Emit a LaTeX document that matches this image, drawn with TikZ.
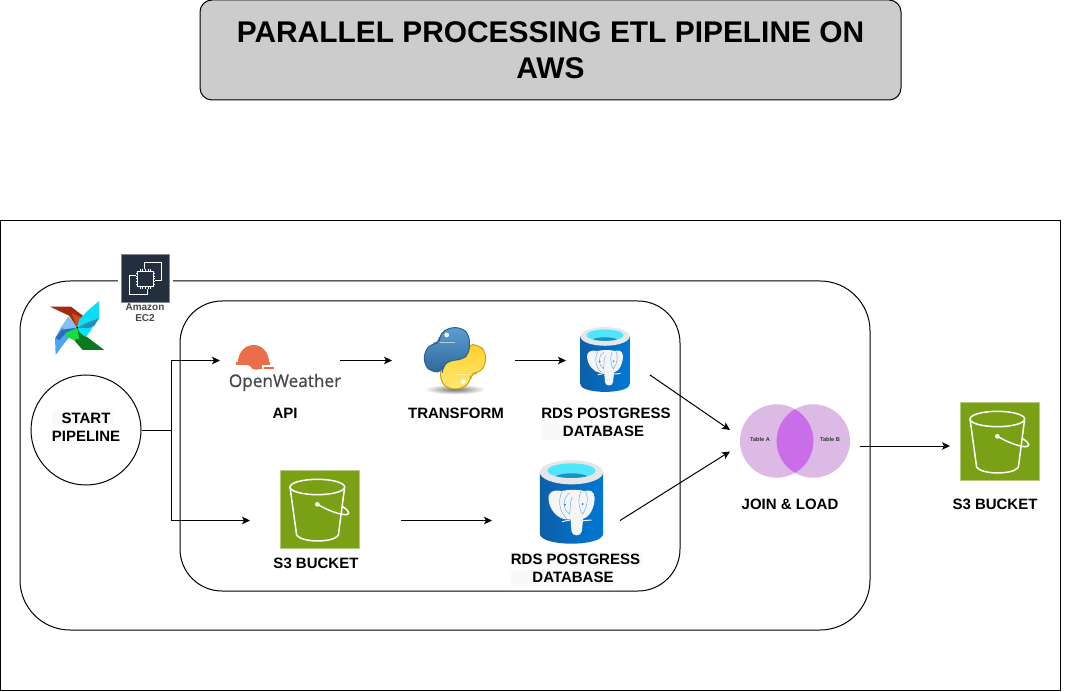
\documentclass[tikz,border=0pt]{standalone}
\usepackage{fontspec}
\setmainfont{Liberation Sans}
\newfontfamily\owfont[FakeBold=0.8]{Open Sans}
\usetikzlibrary{arrows.meta,calc}
\definecolor{titlegrey}{HTML}{CCCCCC}
\definecolor{s3green}{HTML}{7AA116}
\definecolor{s3edge}{HTML}{B5CC7E}
\definecolor{ecdark}{HTML}{232F3E}
\definecolor{ecedge}{HTML}{7F8893}
\definecolor{oworange}{HTML}{EB6E4B}
\definecolor{owgrey}{HTML}{48484A}
\definecolor{vennlight}{HTML}{DDB9E6}
\definecolor{venndark}{HTML}{C96EE8}
\definecolor{pgdeep}{HTML}{0F5FA8}
\definecolor{pgblue}{HTML}{0078D4}
\definecolor{pgline}{HTML}{5AA5E0}
\definecolor{pgcyan}{HTML}{50E6FF}
\definecolor{pgwater}{HTML}{1C93BE}
\definecolor{pgrim}{HTML}{E6E6E6}
\definecolor{pyblue}{HTML}{3F7CAC}
\definecolor{pybluelt}{HTML}{5A9FD4}
\definecolor{pybluedk}{HTML}{306998}
\definecolor{pyblueedge}{HTML}{2F5F8A}
\definecolor{pyyellowlt}{HTML}{FFE873}
\definecolor{pyyellow}{HTML}{FFD02B}
\definecolor{pyyellowedge}{HTML}{C9A01E}
\definecolor{labelbg}{HTML}{F9F9F9}
\definecolor{afred}{HTML}{A3290F}
\definecolor{aforange}{HTML}{CF4C20}
\definecolor{afcyan}{HTML}{0CDDF5}
\definecolor{afcyanlt}{HTML}{00E5FF}
\definecolor{afteal}{HTML}{2A8FB8}
\definecolor{afgreen}{HTML}{0A7A1E}
\definecolor{afgreenlt}{HTML}{14DC46}
\definecolor{afblue}{HTML}{4AA6F5}
\definecolor{afbluelt}{HTML}{85BFF5}
\definecolor{afbluedk}{HTML}{2B6CB8}
\tikzset{
  frame/.style={draw=black,line width=1pt,fill=white},
  linkbox/.style={inner sep=0pt,outer sep=0pt},
  caption/.style={font=\fontsize{15}{18}\selectfont\bfseries,align=center,inner sep=0pt},
  link/.style={draw=black,line width=1pt,-{Stealth[length=8pt,width=7.5pt,inset=2pt]}},
  hl/.style={fill=labelbg,draw=none}
}
\newcommand{\bucketicon}[2]{%
  \begin{scope}[shift={(#1,#2)},scale=1/3]
    \fill[s3green,draw=s3edge,line width=1pt] (-118.5,-117.5) rectangle (118.5,117.5);
    \begin{scope}[draw=white,line width=1.5pt,line join=round]
      \draw (-6.5,-67.5) ellipse [x radius=82,y radius=23];
      \draw (-88.5,-67.5) -- (-68.5,77.5) .. controls (-50,100) and (40,100) .. (56.5,77.5) -- (75.5,-67.5);
      \draw (-6.5,-15.5) .. controls (20,0) and (50,12) .. (72,15) .. controls (95,18) and (92,5) .. (70,-8);
      \fill[white] (-6.5,-15.5) circle [radius=7];
    \end{scope}
  \end{scope}}
\newcommand{\pgicon}[3]{%
  \begin{scope}[shift={(#1,#2)},scale=#3/3]
    \shade[left color=pgdeep,right color=pgblue] (-95,-89) -- (-95,95) .. controls (-95,135) and (95,135) .. (95,95) -- (95,-89) -- cycle;
    \fill[pgrim] (0,-89) ellipse [x radius=95,y radius=36];
    \fill[pgcyan] (0,-94) ellipse [x radius=72,y radius=22];
    \begin{scope}
      \clip (0,-94) ellipse [x radius=72,y radius=22];
      \fill[pgwater] (0,-66) ellipse [x radius=58,y radius=20];
    \end{scope}
    \fill[white!96!black] (-30,-33) .. controls (-58,-38) and (-72,-27) .. (-69,-8) .. controls (-66,22) and (-45,48) .. (-18,52) -- (-3,52) -- (0,88) .. controls (2,104) and (28,104) .. (31,88) -- (35,50) .. controls (57,45) and (71,10) .. (69,-15) .. controls (68,-32) and (55,-38) .. (40,-33) .. controls (15,-38) and (-10,-37) .. (-30,-33) -- cycle;
    \draw[pgline,line width=.4pt] (-28,-31) .. controls (-42,-5) and (-36,30) .. (-14,50);
    \draw[pgline,line width=.4pt] (-4,-28) .. controls (-30,-12) and (-26,22) .. (-6,36) .. controls (-2,18) and (-6,-5) .. (3,-15);
    \draw[pgline,line width=.4pt] (28,-30) .. controls (18,-10) and (22,20) .. (33,36) .. controls (48,15) and (52,-15) .. (42,-31);
    \fill[pgblue] (-20,8) circle [radius=3];
    \fill[pgblue] (33,6) circle [radius=3];
    \draw[white!96!black,line width=1pt] (-28,59) -- (-5,54);
    \draw[white!96!black,line width=1pt] (35,56) -- (60,54);
  \end{scope}}
\newcommand{\snake}{(148,100) -- (148,75) -- (175,53) -- (215,53) -- (238,75) -- (238,130) -- (215,150) -- (180,150) -- (157,170) -- (157,186) -- (125,186) -- (103,165) -- (103,125) -- (125,100) -- cycle}
\begin{document}
\begin{tikzpicture}[x=1pt,y=-1pt]
\useasboundingbox (0,0) rectangle (1081,692);
\fill[white] (0,0) rectangle (1081,692);

% title
\node[frame,fill=titlegrey,rounded corners=12pt,minimum width=701pt,minimum height=100pt,inner sep=0pt,align=center,
      font=\fontsize{29.9}{36}\selectfont\bfseries] (title) at (550.5,50)
  {PARALLEL PROCESSING ETL PIPELINE ON\\AWS};

% containers
\node[frame,minimum width=1060pt,minimum height=469pt,inner sep=0pt] (outer) at (530,455.5) {};
\node[frame,rounded corners=50pt,minimum width=850pt,minimum height=349pt,inner sep=0pt] (ec2box) at (445,455.5) {};
\node[frame,rounded corners=42pt,minimum width=500pt,minimum height=290pt,inner sep=0pt] (parallel) at (430,446) {};

% EC2 icon
\begin{scope}[shift={(0,240)},scale=1/3]
  \fill[white] (355,43) rectangle (520,186);
  \fill[ecdark,draw=ecedge,line width=.8pt] (365,43) rectangle (508,186);
  \begin{scope}[draw=white,line width=.8pt]
    \draw (432,86) -- (432,67) -- (485,67) -- (485,122) -- (466,122);
    \draw (407,107) -- (388,107) -- (388,163) -- (443,163) -- (443,146);
    \draw (413,93) rectangle (460,140);
    \foreach \p in {420,428,436,444,452}{
      \draw (\p,87) -- (\p,93);
      \draw (\p,140) -- (\p,146);
    }
    \foreach \p in {100,108,116,124,132}{
      \draw (407,\p) -- (413,\p);
      \draw (460,\p) -- (466,\p);
    }
  \end{scope}
\end{scope}
\node[font=\fontsize{10}{11}\selectfont\bfseries,text=owgrey,align=center,inner sep=0pt] (eclabel) at (145,313) {Amazon\\EC2};

% Airflow pinwheel
\begin{scope}[shift={(45,295)},scale=1/3]
  \fill[afblue] (32,180) -- (30,130) -- (50,95) -- (70,65) -- (97,98) -- (60,142) -- cycle;
  \fill[afbluelt] (50,95) -- (70,65) -- (97,98) -- (60,102) -- cycle;
  \fill[afbluedk] (32,128) -- (50,105) -- (97,98) -- (62,115) -- (42,136) -- cycle;
  \fill[afgreen] (97,98) -- (125,125) -- (178,165) -- (113,165) -- (88,136) -- cycle;
  \fill[afgreenlt] (60,115) -- (97,98) -- (102,130) -- (88,136) -- (65,125) -- cycle;
  \fill[afred] (15,35) -- (78,35) -- (135,78) -- (125,92) -- (97,98) -- (72,62) -- cycle;
  \fill[aforange] (80,55) -- (135,78) -- (125,92) -- (97,98) -- cycle;
  \fill[afcyan] (162,18) -- (162,70) -- (140,100) -- (97,98) -- (102,75) -- (125,50) -- cycle;
  \fill[afteal] (162,70) -- (130,82) -- (97,98) -- (130,100) -- (148,92) -- cycle;
  \fill[afcyanlt] (97,98) -- (142,100) -- (122,126) -- (104,112) -- cycle;
  \fill[black] (97,98) circle [radius=3];
\end{scope}

% start
\node[draw=black,line width=1pt,fill=white,circle,minimum size=110pt,inner sep=0pt] (start) at (86,430) {};
\fill[hl] (52,411) rectangle (113,425);
\node[caption] (startlabel) at (86,427) {START\\PIPELINE};

% OpenWeather
\node[linkbox,minimum width=120pt,minimum height=20pt] (owm) at (280,360.5) {};
\begin{scope}
  \fill[oworange] (238,362) arc [start angle=180,end angle=360,x radius=15.5,y radius=17] -- cycle;
  \fill[oworange] (236,362) rectangle (270,364.5);
  \fill[oworange] (246,364.5) -- (262,364.5) -- (262,366) .. controls (260,371) and (252,371) .. (250,366) -- cycle;
  \fill[oworange] (258,366.5) rectangle (262,368.5);
  \fill[oworange] (264,366.5) rectangle (274,368.5);
\end{scope}
\node[font=\owfont\fontsize{17.2}{20}\selectfont,text=owgrey,inner sep=0pt] (owtext) at (285,382.5) {OpenWeather};
\node[caption] (apilabel) at (285,413.5) {API};

% Python
\node[linkbox,minimum width=123pt,minimum height=20pt] (py) at (453.5,360.5) {};
\begin{scope}[shift={(390,310)},scale=1/3]
  \shade[inner color=black!55,outer color=white] (195,238) ellipse [x radius=92,y radius=15];
  \begin{scope}[shift={(390,290)},xscale=-1,yscale=-1]
    \shade[top color=pyyellow,bottom color=pyyellowlt,draw=pyyellowedge,line width=1pt,rounded corners=6pt] \snake;
    \draw[white!60!pyyellow,line width=.7pt] (150,97) -- (196,97);
    \fill[white] (170,75) circle [radius=7];
  \end{scope}
  \shade[top color=pybluelt,bottom color=pybluedk,draw=pyblueedge,line width=1pt,rounded corners=6pt] \snake;
  \draw[white!60!pyblue,line width=.7pt] (150,97) -- (196,97);
  \fill[white] (170,75) circle [radius=7];
\end{scope}
\node[caption] (pylabel) at (456,413.5) {TRANSFORM};

% Postgres upper
\node[linkbox,minimum width=84pt,minimum height=20pt] (pgone) at (608,360.5) {};
\pgicon{605}{359.5}{0.777}
\fill[hl] (542,424) rectangle (615,440);
\node[caption] (pgonelabel) at (606,422.5) {RDS POSTGRESS\\\hspace*{-5pt}DATABASE};

% S3 lower
\node[linkbox,minimum width=151pt,minimum height=20pt] (bktone) at (325.5,520.5) {};
\bucketicon{319.5}{509.5}
\node[caption] (bktonelabel) at (316,563.5) {S3 BUCKET};

% Postgres lower
\node[linkbox,minimum width=128pt,minimum height=20pt] (pgtwo) at (556,520.5) {};
\pgicon{571.5}{502}{1}
\fill[hl] (511,552) rectangle (643,566);
\fill[hl] (511,570) rectangle (612,586);
\node[caption] (pgtwolabel) at (575.5,568.5) {RDS POSTGRESS\\\hspace*{-5pt}DATABASE};

% Venn
\node[linkbox,minimum width=130pt,minimum height=20pt] (join) at (795,441) {};
\fill[vennlight] (776.7,441) circle [radius=36.7];
\fill[vennlight] (813.3,441) circle [radius=36.7];
\begin{scope}
  \clip (776.7,441) circle [radius=36.7];
  \fill[venndark] (813.3,441) circle [radius=36.7];
\end{scope}
\node[font=\fontsize{5.6}{6}\selectfont\bfseries,inner sep=0pt,text=black!80] (tablea) at (760,439.5) {Table A};
\node[font=\fontsize{5.6}{6}\selectfont\bfseries,inner sep=0pt,text=black!80] (tableb) at (830,439.5) {Table B};
\node[caption] (joinlabel) at (790,504.5) {JOIN \& LOAD};

% S3 right
\node[linkbox,minimum width=90pt,minimum height=20pt] (bkttwo) at (995,446) {};
\bucketicon{999.5}{441.5}
\node[caption] (bkttwolabel) at (995,504.5) {S3 BUCKET};

% connectors
\draw[link] (start.east) -- ++(30,0) |- (owm.west);
\draw[link] (start.east) -- ++(30,0) |- (bktone.west);
\draw[link] (owm.east) -- (py.west);
\draw[link] (py.east) -- (pgone.west);
\draw[link] (bktone.east) -- (pgtwo.west);
\draw[link] ([yshift=-14.5pt]pgone.east) -- ([yshift=11pt]join.west);
\draw[link] (pgtwo.east) -- ([yshift=-10.5pt]join.west);
\draw[link] ([yshift=-5pt]join.east) -- (bkttwo.west);
\end{tikzpicture}
\end{document}
